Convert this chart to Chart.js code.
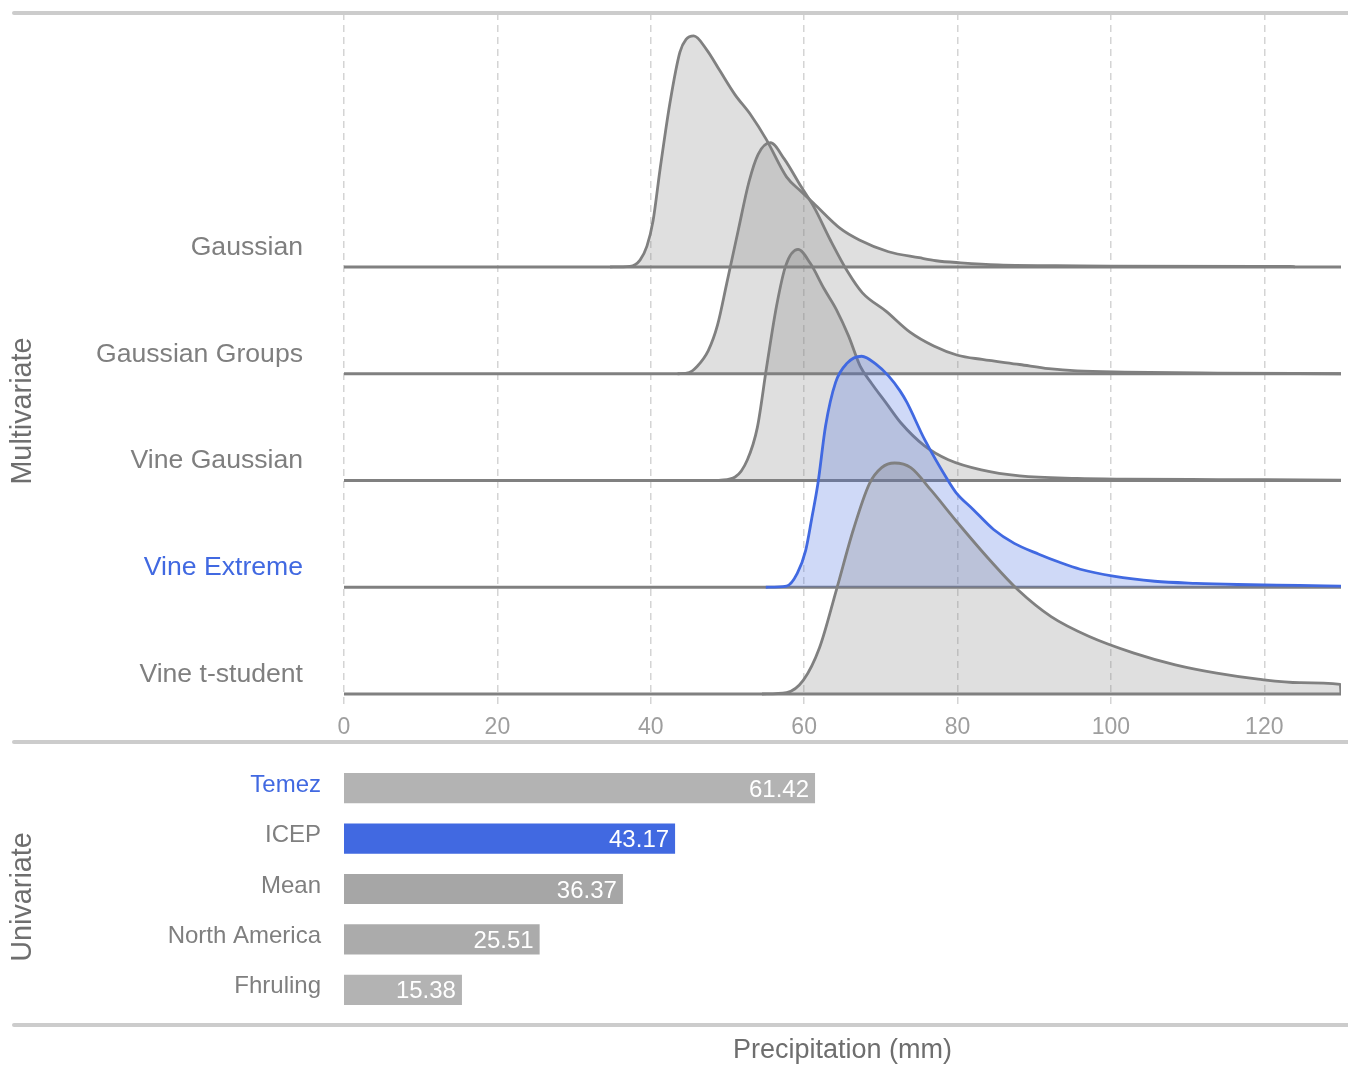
<!DOCTYPE html>
<html><head><meta charset="utf-8">
<script src="https://cdn.jsdelivr.net/npm/chart.js@4.4.1/dist/chart.umd.min.js"></script>
<style>
html,body{margin:0;padding:0;background:#fff;}
#wrap{position:relative;width:1348px;height:1067px;overflow:hidden;}
#c1{position:absolute;left:0;top:0;}
#c2{position:absolute;left:0;top:745px;}
</style></head><body>
<div id="wrap"><canvas id="c1" width="1348" height="745"></canvas><canvas id="c2" width="1348" height="322"></canvas></div>
<script>
// ---------- data ----------
const ridgeNames = ['Gaussian', 'Gaussian Groups', 'Vine Gaussian', 'Vine Extreme', 'Vine t-student'];
const xTicks = [0, 20, 40, 60, 80, 100, 120];
const xMin = 0, xMax = 130;

// relative densities (1 = peak of each ridge)
const gaussianX = [34.7, 37.3, 38.6, 39.5, 40.3, 41.2, 42.5, 43.8, 44.6, 45.6, 47.3, 49.0, 51.0, 53.0, 55.1, 57.7, 59.5, 61.2, 64.7, 67.2, 71.0, 75.0, 77.2, 80.4, 85.3, 96.0, 100.0, 119.5, 123.4, 124.0];
const gaussianD = [0, 0.003, 0.03, 0.09, 0.2, 0.42, 0.71, 0.93, 0.985, 1.0, 0.94, 0.85, 0.745, 0.66, 0.55, 0.39, 0.33, 0.277, 0.167, 0.117, 0.066, 0.04, 0.027, 0.018, 0.009, 0.005, 0.004, 0.003, 0.003, 0];

const groupsX = [43.5, 45.0, 46.0, 47.5, 48.7, 49.9, 51.4, 52.8, 54.0, 55.6, 57.4, 59.6, 61.3, 63.4, 65.7, 67.6, 70.7, 73.8, 76.9, 80.0, 83.2, 88.1, 91.9, 95.6, 101.8, 114.0, 130.0];
const groupsD = [0, 0.005, 0.03, 0.1, 0.21, 0.39, 0.62, 0.83, 0.95, 1.0, 0.93, 0.81, 0.72, 0.58, 0.44, 0.35, 0.27, 0.18, 0.12, 0.08, 0.062, 0.04, 0.022, 0.012, 0.007, 0.003, 0];

const vineGaussX = [48.9, 51.0, 52.6, 53.9, 55.1, 56.4, 57.6, 59.2, 60.8, 62.6, 64.2, 65.8, 67.3, 68.8, 70.7, 72.6, 75.7, 78.8, 83.1, 88.1, 95.6, 101.8, 114.0, 130.0];
const vineGaussD = [0, 0.015, 0.09, 0.23, 0.49, 0.755, 0.93, 1.0, 0.94, 0.83, 0.74, 0.625, 0.495, 0.42, 0.335, 0.25, 0.15, 0.09, 0.046, 0.02, 0.009, 0.006, 0.004, 0.002];

const vineExtremeX = [55.0, 57.7, 59.1, 60.2, 61.0, 61.8, 62.8, 64.1, 65.6, 67.5, 69.4, 71.0, 72.5, 73.4, 75.7, 78.8, 79.8, 82.0, 84.7, 87.4, 90.6, 93.3, 96.0, 100.3, 105.7, 111.1, 116.5, 124.6, 130.0];
const vineExtremeD = [0, 0.005, 0.06, 0.16, 0.30, 0.45, 0.70, 0.887, 0.97, 1.0, 0.965, 0.915, 0.85, 0.80, 0.64, 0.46, 0.41, 0.338, 0.25, 0.19, 0.143, 0.108, 0.078, 0.048, 0.026, 0.017, 0.012, 0.008, 0.005];

const vineStudentX = [54.5, 57.7, 59.9, 62.0, 64.2, 66.4, 68.5, 70.1, 71.8, 73.9, 76.6, 79.8, 84.2, 87.9, 92.2, 97.1, 103.0, 108.4, 113.8, 119.2, 124.6, 129.9, 130.0];
const vineStudentD = [0, 0.006, 0.06, 0.2, 0.45, 0.71, 0.91, 0.98, 1.0, 0.98, 0.88, 0.75, 0.58, 0.45, 0.335, 0.25, 0.177, 0.126, 0.09, 0.064, 0.049, 0.042, 0];

const barLabels = ['Temez', 'ICEP', 'Mean', 'North America', 'Fhruling'];
const barValues = [61.42, 43.17, 36.37, 25.51, 15.38];

// ---------- styles ----------
const FONT = "'Liberation Sans', Arial, sans-serif";
const BLUE = '#4169e1';
const LINE_GRAY = '#808080';
const LABEL_GRAY = '#7f7f7f';
const TITLE_GRAY = '#6e6e6e';
const TICK_GRAY = '#9e9e9e';
const PANEL_LINE = '#cccccc';
const highlightRidge = 'Vine Extreme';
const highlightBarLabel = 'Temez';
const barColors = ['#b3b3b3', BLUE, '#a6a6a6', '#ababab', '#b3b3b3'];
const ridgeScale = 2.164; // ridge peak height in row units

const ridgeSeries = [
  [gaussianX, gaussianD],
  [groupsX, groupsD],
  [vineGaussX, vineGaussD],
  [vineExtremeX, vineExtremeD],
  [vineStudentX, vineStudentD]
];

const datasets = [];
ridgeSeries.forEach(([xs, ds], i) => {
  const base = ridgeNames.length - 1 - i;
  const hl = ridgeNames[i] === highlightRidge;
  datasets.push({
    label: ridgeNames[i] + ' baseline',
    data: [{x: xMin, y: base}, {x: xMax, y: base}],
    borderColor: LINE_GRAY, borderWidth: 2.8, pointRadius: 0, fill: false,
    order: 100 - i * 2
  });
  datasets.push({
    label: ridgeNames[i],
    data: xs.map((x, j) => ({x: x, y: base + ds[j] * ridgeScale})),
    borderColor: hl ? BLUE : LINE_GRAY,
    backgroundColor: hl ? 'rgba(65,105,225,0.25)' : 'rgba(128,128,128,0.25)',
    fill: {value: base},
    borderWidth: 2.8, pointRadius: 0,
    cubicInterpolationMode: 'monotone',
    order: 99 - i * 2
  });
});

function hLine(ctx, y) {
  ctx.save();
  ctx.strokeStyle = PANEL_LINE; ctx.lineWidth = 4; ctx.lineCap = 'round';
  ctx.beginPath(); ctx.moveTo(14, y); ctx.lineTo(1360, y); ctx.stroke();
  ctx.restore();
}
function vText(ctx, text, x, y) {
  ctx.save();
  ctx.translate(x, y); ctx.rotate(-Math.PI / 2);
  ctx.font = '28.8px ' + FONT; ctx.fillStyle = TITLE_GRAY;
  ctx.textAlign = 'center'; ctx.textBaseline = 'middle';
  ctx.fillText(text, 0, 0);
  ctx.restore();
}
function noPad(s) { s.paddingTop = 0; s.paddingBottom = 0; s.paddingLeft = 0; s.paddingRight = 0; }

const decor1 = {
  id: 'decor1',
  afterDraw(chart) {
    const ctx = chart.ctx;
    hLine(ctx, 13);
    hLine(ctx, 742);
    vText(ctx, 'Multivariate', 23, 411);
  }
};

new Chart(document.getElementById('c1'), {
  type: 'line',
  data: {datasets: datasets},
  options: {
    responsive: false, animation: false,
    layout: {padding: {left: 0, right: 7, top: 13, bottom: 0}},
    plugins: {legend: {display: false}, tooltip: {enabled: false}},
    scales: {
      x: {
        type: 'linear', min: xMin, max: xMax,
        afterBuildTicks: s => { s.ticks = xTicks.map(v => ({value: v})); },
        afterFit: s => { s.height = 37; noPad(s); },
        grid: {color: '#d4d4d4', lineWidth: 1.5, drawTicks: false},
        border: {display: false, dash: [7, 5]},
        ticks: {font: {family: FONT, size: 23}, color: TICK_GRAY, padding: 6, maxRotation: 0}
      },
      y: {
        type: 'linear', min: -0.131, max: 6.379,
        afterBuildTicks: s => { s.ticks = ridgeNames.map((n, i) => ({value: ridgeNames.length - 1 - i})); },
        afterFit: s => { s.width = 344; noPad(s); },
        grid: {display: false, drawTicks: false},
        border: {display: false},
        ticks: {
          font: {family: FONT, size: 26.6},
          padding: 41, labelOffset: -19.5,
          color: c => ridgeNames[ridgeNames.length - 1 - c.tick.value] === highlightRidge ? BLUE : LABEL_GRAY,
          callback: v => ridgeNames[ridgeNames.length - 1 - v]
        }
      }
    }
  },
  plugins: [decor1]
});

const decor2 = {
  id: 'decor2',
  afterDatasetsDraw(chart) {
    const ctx = chart.ctx;
    const meta = chart.getDatasetMeta(0);
    ctx.save();
    ctx.font = '24px ' + FONT; ctx.fillStyle = '#ffffff';
    ctx.textAlign = 'right'; ctx.textBaseline = 'middle';
    meta.data.forEach((bar, i) => ctx.fillText(barValues[i].toFixed(2), bar.x - 6, bar.y + 2));
    ctx.restore();
  },
  afterDraw(chart) {
    const ctx = chart.ctx;
    hLine(ctx, 280);
    vText(ctx, 'Univariate', 23, 152);
  }
};

new Chart(document.getElementById('c2'), {
  type: 'bar',
  data: {
    labels: barLabels,
    datasets: [{data: barValues, backgroundColor: barColors, borderWidth: 0, categoryPercentage: 1, barPercentage: 0.6}]
  },
  options: {
    indexAxis: 'y', responsive: false, animation: false,
    layout: {padding: {left: 0, right: 7, top: 18, bottom: 0}},
    plugins: {legend: {display: false}, tooltip: {enabled: false}},
    scales: {
      x: {
        type: 'linear', min: xMin, max: xMax,
        afterFit: s => { s.height = 52; noPad(s); },
        grid: {display: false, drawTicks: false},
        border: {display: false},
        ticks: {display: false},
        title: {display: true, text: 'Precipitation (mm)', color: TITLE_GRAY, font: {family: FONT, size: 27}, padding: {top: 0, bottom: 0}}
      },
      y: {
        afterFit: s => { s.width = 344; noPad(s); },
        grid: {display: false, drawTicks: false},
        border: {display: false},
        ticks: {
          font: {family: FONT, size: 24}, padding: 23, labelOffset: -3,
          color: c => barLabels[c.index] === highlightBarLabel ? BLUE : LABEL_GRAY
        }
      }
    }
  },
  plugins: [decor2]
});
</script></body></html>
